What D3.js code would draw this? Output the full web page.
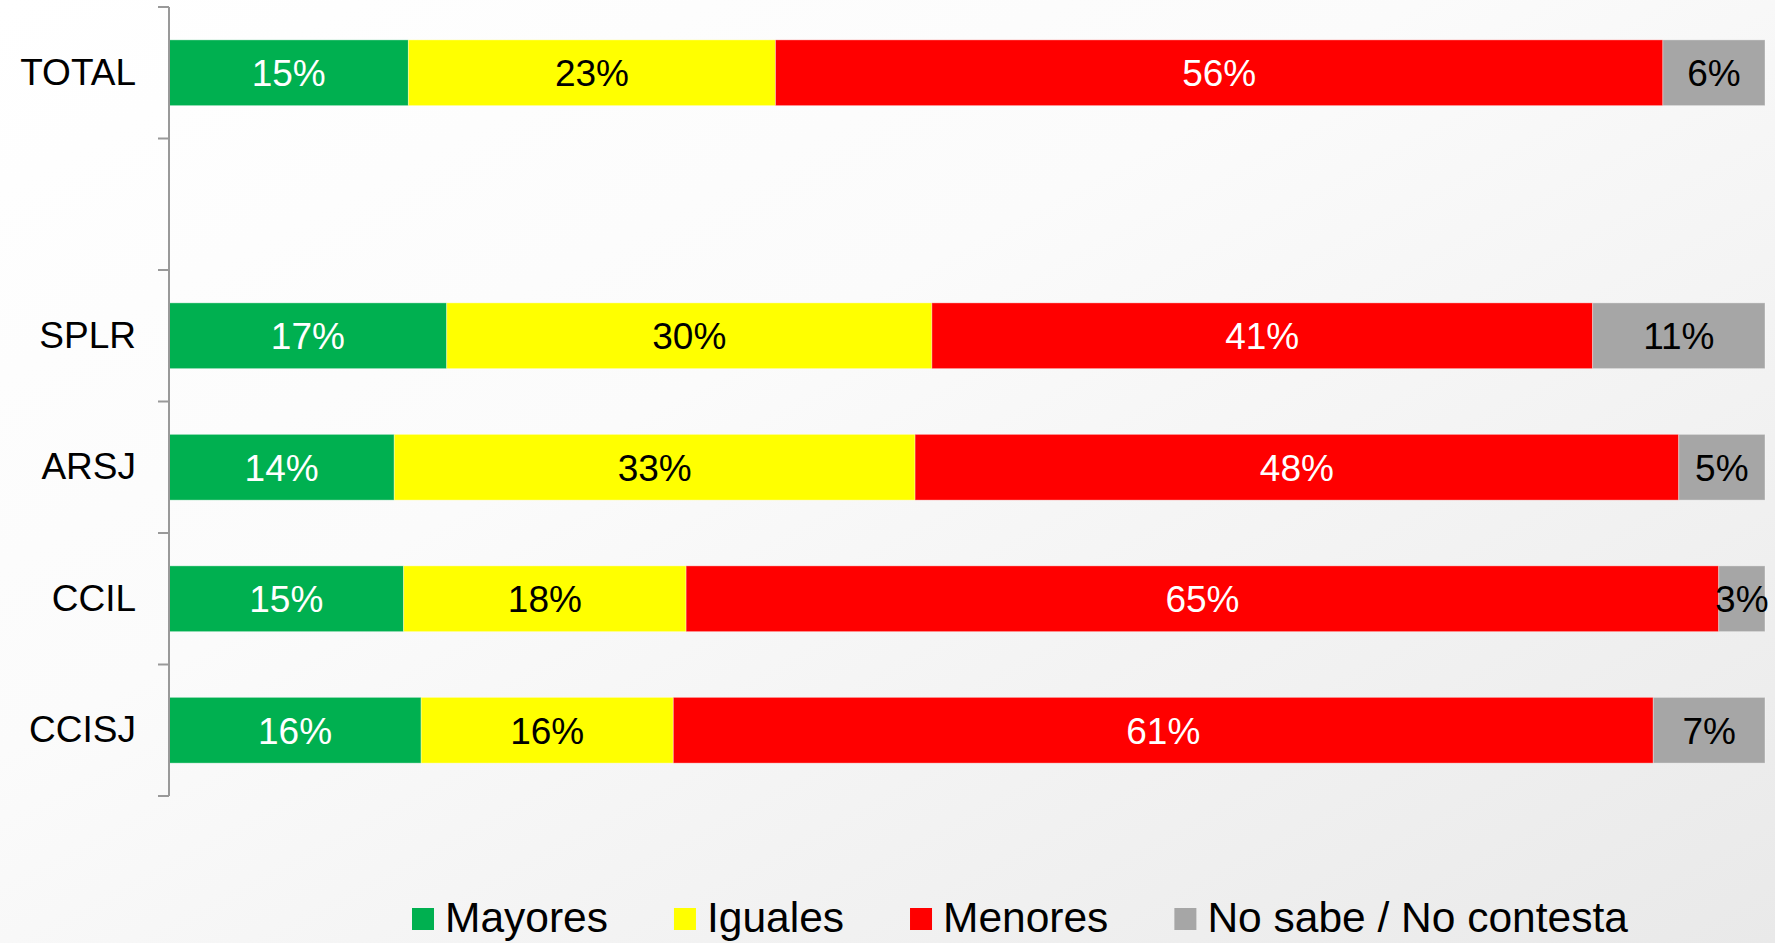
<!DOCTYPE html>
<html><head><meta charset="utf-8">
<script src="https://cdn.jsdelivr.net/npm/d3@7"></script>
<style>html,body{margin:0;padding:0;overflow:hidden;}svg{display:block;}</style>
</head><body>
<svg id="chart" width="1775" height="943"></svg>
<script>
// Data (percentages)
const categories = ["TOTAL", "", "SPLR", "ARSJ", "CCIL", "CCISJ"];
const seriesNames = ["Mayores", "Iguales", "Menores", "No sabe / No contesta"];
const mayores  = [15.0, null, 17.4, 14.1, 14.7, 15.8];
const iguales  = [23.0, null, 30.4, 32.6, 17.7, 15.8];
const menores  = [55.6, null, 41.4, 47.8, 64.7, 61.4];
const nosabe   = [ 6.4, null, 10.8,  5.4,  2.9,  7.0];
const colors = ["#00b050", "#ffff00", "#ff0000", "#a6a6a6"];
const labelColors = ["#ffffff", "#000000", "#ffffff", "#000000"];

const W = 1775, H = 943;
const svg = d3.select("#chart");
const defs = svg.append("defs");
const grad = defs.append("linearGradient").attr("id", "bg")
  .attr("x1", "0%").attr("y1", "0%").attr("x2", "100%").attr("y2", "100%");
grad.append("stop").attr("offset", "0%").attr("stop-color", "#ffffff");
grad.append("stop").attr("offset", "40%").attr("stop-color", "#fbfbfb");
grad.append("stop").attr("offset", "100%").attr("stop-color", "#e9e9e9");
svg.append("rect").attr("width", W).attr("height", H).attr("fill", "url(#bg)");

const keys = categories.map((c, i) => c === "" ? "_blank" + i : c);
const rows = keys.map((k, i) => ({
  key: k, label: categories[i],
  Mayores: mayores[i] || 0, Iguales: iguales[i] || 0,
  Menores: menores[i] || 0, "No sabe / No contesta": nosabe[i] || 0,
  empty: mayores[i] == null
}));

const y = d3.scaleBand().domain(keys).range([7, 796]).paddingInner(0.5).paddingOuter(0.25);
const x = d3.scaleLinear().domain([0, 1]).range([169, 1765]);

const stack = d3.stack().keys(seriesNames).offset(d3.stackOffsetExpand);
const stacked = stack(rows.filter(r => !r.empty));

const font = "'Liberation Sans', Arial, sans-serif";

stacked.forEach((layer, si) => {
  const g = svg.append("g");
  g.selectAll("rect").data(layer).enter().append("rect")
    .attr("x", d => x(d[0]))
    .attr("y", d => y(d.data.key))
    .attr("width", d => x(d[1]) - x(d[0]))
    .attr("height", y.bandwidth())
    .attr("fill", colors[si])
    .attr("stroke", "rgba(255,255,255,0.35)")
    .attr("stroke-width", 1);
  g.selectAll("text").data(layer).enter().append("text")
    .attr("x", d => (x(d[0]) + x(d[1])) / 2)
    .attr("y", d => y(d.data.key) + y.bandwidth() / 2)
    .attr("dy", "0.36em")
    .attr("text-anchor", "middle")
    .attr("font-family", font)
    .attr("font-size", 37)
    .attr("fill", labelColors[si])
    .text(d => d3.format(".0f")(d.data[seriesNames[si]]) + "%");
});

// Axis
const axisColor = "#999999";
const ag = svg.append("g");
ag.append("line").attr("x1", 169).attr("x2", 169).attr("y1", 7).attr("y2", 796)
  .attr("stroke", axisColor).attr("stroke-width", 2);
const step = y.step();
const bounds = d3.range(keys.length + 1).map(i => 7 + i * step);
ag.selectAll("line.tick").data(bounds).enter().append("line")
  .attr("class", "tick")
  .attr("x1", 158).attr("x2", 169).attr("y1", d => d).attr("y2", d => d)
  .attr("stroke", axisColor).attr("stroke-width", 2);
ag.selectAll("text").data(rows).enter().append("text")
  .attr("x", 136)
  .attr("y", d => y(d.key) + y.bandwidth() / 2)
  .attr("dy", "0.33em")
  .attr("text-anchor", "end")
  .attr("font-family", font)
  .attr("font-size", 37)
  .attr("fill", "#000")
  .text(d => d.label);

// Legend
const lg = svg.append("g");
let lx = 412;
seriesNames.forEach((name, i) => {
  lg.append("rect").attr("x", lx).attr("y", 908).attr("width", 22).attr("height", 22).attr("fill", colors[i]);
  const t = lg.append("text").attr("x", lx + 33).attr("y", 932)
    .attr("font-family", font).attr("font-size", 42.5).attr("fill", "#000").text(name);
  const w = t.node().getComputedTextLength();
  lx = lx + 33 + w + 66;
});
</script>
</body></html>
